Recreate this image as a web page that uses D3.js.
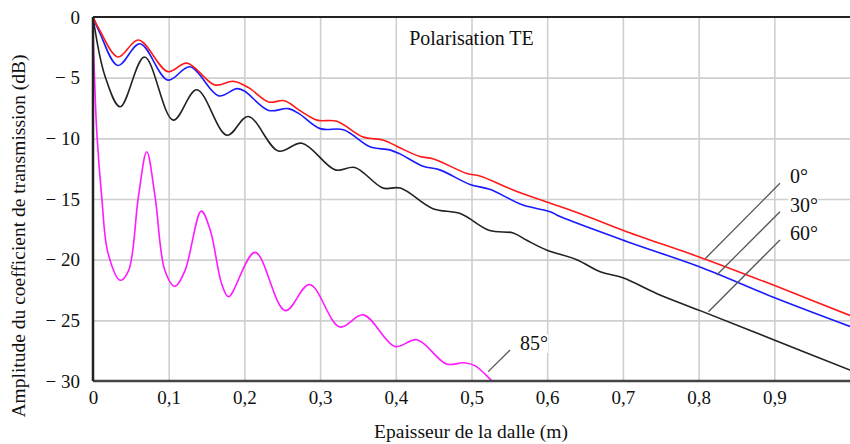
<!DOCTYPE html>
<html>
<head>
<meta charset="utf-8">
<script src="https://cdn.jsdelivr.net/npm/d3@7"></script>
<style>
  body { margin: 0; background: #fff; }
  svg text { font-family: 'Liberation Serif', 'Tinos', 'DejaVu Serif', 'Noto Serif', 'Times New Roman', serif !important; fill: #111; }
</style>
</head>
<body>
<div id="chart"></div>
<script>
// thickness (m) / amplitude (dB)
var te0 = [[0,0],[0.009,-1.1],[0.033,-3.3],[0.060,-1.9],[0.099,-4.5],[0.124,-3.8],[0.161,-5.6],
    [0.185,-5.3],[0.205,-5.8],[0.232,-7.0],[0.253,-6.9],[0.273,-7.7],[0.296,-8.5],[0.322,-8.6],
    [0.357,-9.9],[0.384,-10.15],[0.406,-10.8],[0.432,-11.5],[0.450,-11.7],[0.494,-12.9],[0.511,-13.1],
    [0.555,-14.25],[0.604,-15.35],[0.643,-16.2],[0.705,-17.7],[0.806,-19.9],[0.903,-22.2],[1.0,-24.6]];

var te30 = [[0,0],[0.009,-1.3],[0.033,-4.0],[0.062,-2.2],[0.099,-5.2],[0.128,-4.1],[0.166,-6.5],
    [0.190,-5.9],[0.200,-6.1],[0.232,-7.7],[0.258,-7.55],[0.273,-8.0],[0.300,-9.2],[0.331,-9.3],
    [0.366,-10.7],[0.392,-10.95],[0.406,-11.3],[0.436,-12.3],[0.458,-12.6],[0.498,-13.8],[0.524,-14.2],
    [0.568,-15.5],[0.604,-16.05],[0.617,-16.45],[0.705,-18.5],[0.806,-20.7],[0.903,-23.2],[1.0,-25.5]];

var te60 = [[0,0],[0.016,-4.9],[0.036,-7.4],[0.068,-3.3],[0.106,-8.5],[0.137,-6.0],[0.177,-9.75],
    [0.205,-8.2],[0.245,-11.05],[0.276,-10.4],[0.320,-12.6],[0.346,-12.4],[0.383,-14.1],[0.406,-14.1],
    [0.449,-15.8],[0.485,-16.2],[0.524,-17.6],[0.555,-17.8],[0.573,-18.4],[0.599,-19.2],[0.639,-20.0],
    [0.670,-21.0],[0.700,-21.5],[0.745,-22.8],[0.802,-24.2],[0.899,-26.6],[1.0,-29.1]];

var te85 = [[0,-1.3],[0.002,-5],[0.005,-9.5],[0.0115,-14.8],[0.020,-19.5],[0.036,-21.7],[0.047,-20.9],
    [0.060,-14.8],[0.071,-11.1],[0.082,-14.8],[0.095,-20.9],[0.108,-22.2],[0.1215,-20.9],[0.143,-16.0],
    [0.155,-17.6],[0.170,-22.0],[0.179,-23.05],[0.214,-19.4],[0.254,-24.2],[0.286,-22.05],[0.326,-25.55],
    [0.357,-24.55],[0.399,-27.15],[0.428,-26.6],[0.467,-28.6],[0.490,-28.5],[0.505,-28.75],[0.527,-30.0],[0.54,-30.8]];

var series = [
    {label: "0°", values: te0, color: "#ff1a1a"},
    {label: "30°", values: te30, color: "#1a1aff"},
    {label: "60°", values: te60, color: "#222222"},
    {label: "85°", values: te85, color: "#ff1aff"}
];

var xTicks = [0, 0.1, 0.2, 0.3, 0.4, 0.5, 0.6, 0.7, 0.8, 0.9];
var yTicks = [0, -5, -10, -15, -20, -25, -30];

// leader lines: [curve point, label point], in data units
var notes = [
    {label: "0°", from: [0.809,-19.9], to: [0.9075,-13.7]},
    {label: "30°", from: [0.824,-21.26], to: [0.9075,-16.05]},
    {label: "60°", from: [0.813,-24.29], to: [0.9075,-18.38]},
    {label: "85°", from: [0.522,-29.23], to: [0.551,-27.45]}
];

var W = 850, H = 444;
var margin = {top: 17, right: 0, bottom: 63, left: 93},
    width = W - margin.left - margin.right,
    height = H - margin.top - margin.bottom;

var svg = d3.select("#chart")
    .append("svg")
    .attr("width", W)
    .attr("height", H);

var g = svg.append("g")
    .attr("transform", "translate(" + margin.left + "," + margin.top + ")");

var x = d3.scaleLinear().domain([0, 1]).range([0, width]);
var y = d3.scaleLinear().domain([-30, 0]).range([height, 0]);

// grid
g.append("g")
    .attr("class", "grid")
    .call(d3.axisBottom(x).tickValues(xTicks.slice(1)).tickSize(height).tickFormat(""))
    .call(function(s) { s.select(".domain").remove(); });
g.append("g")
    .attr("class", "grid")
    .call(d3.axisLeft(y).tickValues(yTicks.slice(1, -1)).tickSize(-width).tickFormat(""))
    .call(function(s) { s.select(".domain").remove(); });
g.selectAll(".grid line").attr("stroke", "#cfcfcf").attr("stroke-width", 1.6);

g.append("text")
    .attr("x", x(0.5))
    .attr("y", 28)
    .attr("text-anchor", "middle")
    .style("font-size", "20px")
    .text("Polarisation TE");

// curves
g.append("clipPath").attr("id", "clip")
    .append("rect").attr("width", width).attr("height", height);

var line = d3.line()
    .x(function(d) { return x(d[0]); })
    .y(function(d) { return y(d[1]); })
    .curve(d3.curveCatmullRom.alpha(0.5));

g.append("g").attr("clip-path", "url(#clip)")
    .selectAll("path")
    .data(series.slice().reverse())
    .enter()
    .append("path")
    .attr("d", function(d) { return line(d.values); })
    .attr("fill", "none")
    .attr("stroke", function(d) { return d.color; })
    .attr("stroke-width", 1.6);

// annotations
g.selectAll(".leader")
    .data(notes)
    .enter()
    .append("line")
    .attr("class", "leader")
    .attr("x1", function(d) { return x(d.from[0]); })
    .attr("y1", function(d) { return y(d.from[1]); })
    .attr("x2", function(d) { return x(d.to[0]); })
    .attr("y2", function(d) { return y(d.to[1]); })
    .attr("stroke", "#555")
    .attr("stroke-width", 1.3);

var lab = g.selectAll(".note")
    .data(notes)
    .enter()
    .append("g")
    .attr("class", "note");
lab.append("rect")
    .attr("x", function(d) { return x(d.to[0]) + 8; })
    .attr("y", function(d) { return y(d.to[1]) - 16; })
    .attr("width", function(d) { return d.label.length * 10; })
    .attr("height", 19)
    .attr("fill", "#fff");
lab.append("text")
    .attr("x", function(d) { return x(d.to[0]) + 10; })
    .attr("y", function(d) { return y(d.to[1]); })
    .style("font-size", "20px")
    .text(function(d) { return d.label; });

// axis frame
g.append("line").attr("x1", 0).attr("x2", width).attr("y1", 0).attr("y2", 0)
    .attr("stroke", "#222").attr("stroke-width", 2);
g.append("line").attr("x1", 0).attr("x2", width).attr("y1", height).attr("y2", height)
    .attr("stroke", "#444").attr("stroke-width", 2.5);
g.append("line").attr("x1", 0).attr("x2", 0).attr("y1", 0).attr("y2", height)
    .attr("stroke", "#222").attr("stroke-width", 2.5);

// tick labels
var xAxis = g.append("g")
    .attr("transform", "translate(0," + height + ")")
    .call(d3.axisBottom(x).tickValues(xTicks).tickSize(0).tickPadding(10)
        .tickFormat(function(d) { return d === 0 ? "0" : d3.format(".1f")(d).replace(".", ","); }));
xAxis.select(".domain").remove();
xAxis.attr("font-size", 19);
xAxis.selectAll("text").attr("fill", "#111");

var yAxis = g.append("g")
    .call(d3.axisLeft(y).tickValues(yTicks).tickSize(0).tickPadding(13)
        .tickFormat(function(d) { return d === 0 ? "0" : "\u2212 " + Math.abs(d); }));
yAxis.select(".domain").remove();
yAxis.attr("font-size", 19);
yAxis.selectAll("text").attr("fill", "#111");

// axis titles
svg.append("text")
    .attr("transform", "translate(25,236) rotate(-90)")
    .attr("text-anchor", "middle")
    .style("font-size", "19.5px")
    .text("Amplitude du coefficient de transmission (dB)");

svg.append("text")
    .attr("x", 471)
    .attr("y", 438)
    .attr("text-anchor", "middle")
    .style("font-size", "19.5px")
    .text("Epaisseur de la dalle (m)");
</script>
</body>
</html>
